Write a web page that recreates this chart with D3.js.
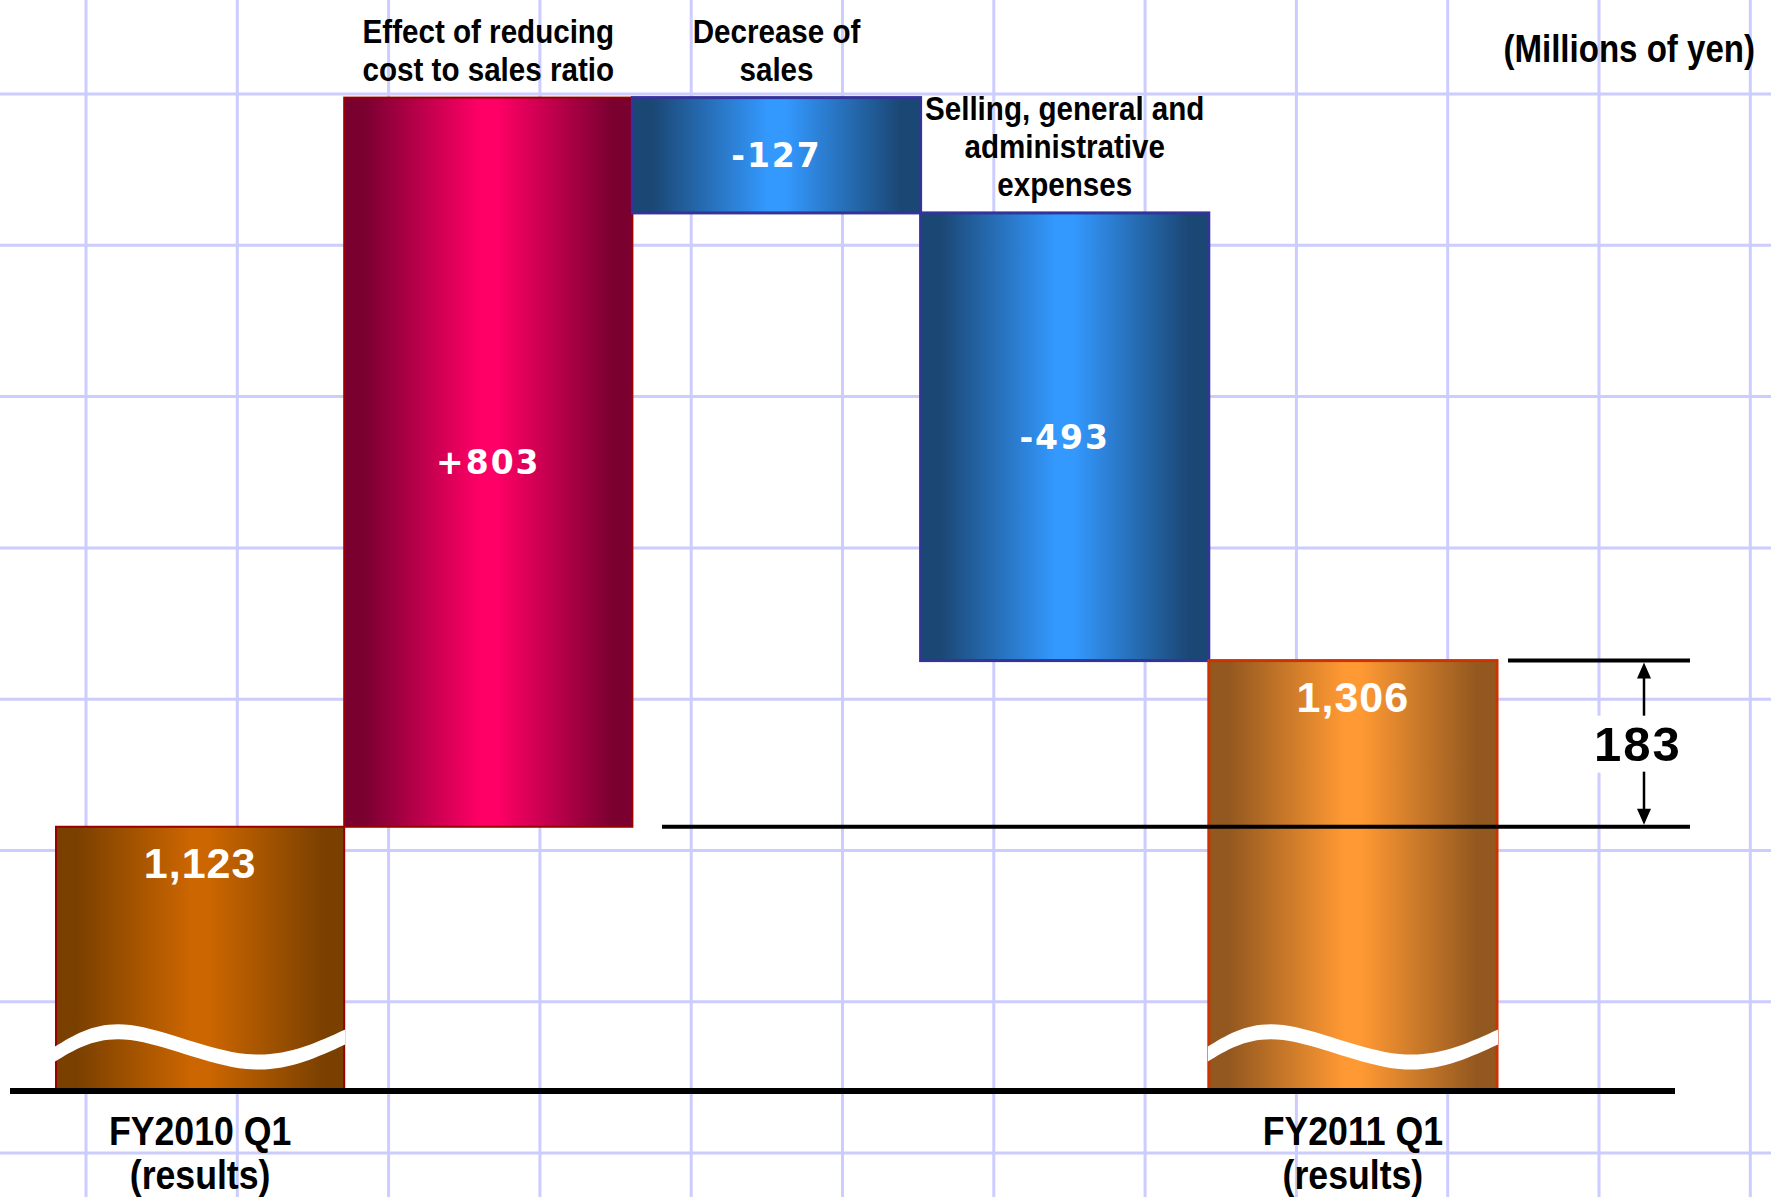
<!DOCTYPE html>
<html>
<head>
<meta charset="utf-8">
<script src="https://cdn.jsdelivr.net/npm/d3@7"></script>
<style>
  body { margin: 0; background: #fff; }
  .cat { font-family: "Liberation Sans", Arial, sans-serif; font-weight: bold; fill: #000; }
  .total { font-family: "Liberation Sans", Arial, sans-serif; font-weight: bold; fill: #fff; }
  .delta { font-family: "DejaVu Sans", sans-serif; font-weight: bold; fill: #fff; }
</style>
</head>
<body>
<svg id="chart" width="1771" height="1197"></svg>
<script>
// chart values
const categories = ["FY2010 Q1", "Cost ratio", "Sales", "SG&A", "FY2011 Q1"];
const labelLines = [
    ["FY2010 Q1", "(results)"],
    ["Effect of reducing", "cost to sales ratio"],
    ["Decrease of", "sales"],
    ["Selling, general and", "administrative", "expenses"],
    ["FY2011 Q1", "(results)"]
];
const values = [1123, 803, -127, -493, 1306];
const kinds = ["total", "delta", "delta", "delta", "total"];
const valueLabels = ["1,123", "+803", "-127", "-493", "1,306"];
const unitLabel = "(Millions of yen)";

const svg = d3.select("#chart"),
      width = +svg.attr("width"),
      height = +svg.attr("height");

const baseY = 1091;
const squeeze = 0.87; // the original labels use a condensed gothic face

const x = d3.scaleBand()
    .domain(categories)
    .range([56, 1497])
    .padding(0);

// broken axis: bottom of the plot stands for ~832
const y = d3.scaleLinear()
    .domain([832, 1926])
    .range([baseY, 97.6]);

// cumulative steps
let running = 0;
const bars = values.map((v, i) => {
    let a, b;
    if (kinds[i] === "total") {
        a = y.domain()[0]; b = v; running = v;
    } else {
        a = running; b = running + v; running = b;
    }
    return { cat: categories[i], kind: kinds[i], from: a, to: b, lines: labelLines[i], label: valueLabels[i], i };
});

// gradients
const grads = [
    { id: "g0", edge: "#7a4000", mid: "#cc6600", stroke: "#990000", sw: 2 },
    { id: "g1", edge: "#7a0030", mid: "#ff0066", stroke: "#990000", sw: 2 },
    { id: "g2", edge: "#1b4775", mid: "#3399ff", stroke: "#333399", sw: 3 },
    { id: "g3", edge: "#1b4775", mid: "#3399ff", stroke: "#333399", sw: 3 },
    { id: "g4", edge: "#93581f", mid: "#ff9933", stroke: "#cc3300", sw: 3 }
];
const defs = svg.append("defs");
grads.forEach(g => {
    const lg = defs.append("linearGradient").attr("id", g.id)
        .attr("x1", 0).attr("x2", 1).attr("y1", 0).attr("y2", 0);
    [[0, g.edge], [0.07, g.edge], [0.47, g.mid], [0.53, g.mid], [0.93, g.edge], [1, g.edge]]
        .forEach(s => lg.append("stop").attr("offset", s[0]).attr("stop-color", s[1]));
});

svg.append("rect").attr("width", width).attr("height", height).attr("fill", "#fff");

// background grid
const grid = svg.append("g").attr("stroke", "#ccccff").attr("stroke-width", 3);
grid.selectAll(".v").data(d3.range(86, width, 151.3)).enter().append("line")
    .attr("x1", d => d).attr("x2", d => d).attr("y1", 0).attr("y2", height);
grid.selectAll(".h").data(d3.range(94, height, 151.3)).enter().append("line")
    .attr("y1", d => d).attr("y2", d => d).attr("x1", 0).attr("x2", width);

// bars
svg.append("g").selectAll("rect")
    .data(bars)
    .enter().append("rect")
    .attr("x", d => x(d.cat))
    .attr("width", x.bandwidth())
    .attr("y", d => Math.min(y(d.from), y(d.to)))
    .attr("height", d => Math.abs(y(d.from) - y(d.to)))
    .attr("fill", d => `url(#${grads[d.i].id})`)
    .attr("stroke", d => grads[d.i].stroke)
    .attr("stroke-width", d => grads[d.i].sw);

// wavy break marks on total bars
const wave = [[0, -37], [0.26, -58.5], [0.66, -29.5], [1, -54]];
const waveArea = d3.area()
    .curve(d3.curveNatural)
    .x(p => p[0])
    .y0(p => p[1] - 7.5)
    .y1(p => p[1] + 7.5);
svg.append("g").selectAll("path")
    .data(bars.filter(d => d.kind === "total"))
    .enter().append("path")
    .attr("fill", "#fff")
    .attr("d", d => waveArea(wave.map(p => [x(d.cat) - 1 + p[0] * (x.bandwidth() + 2), baseY + p[1]])));

// value labels
svg.append("g").selectAll("text")
    .data(bars)
    .enter().append("text")
    .attr("class", d => d.kind)
    .attr("x", d => x(d.cat) + x.bandwidth() / 2)
    .attr("y", d => d.kind === "total" ? y(d.to) + 51 : (y(d.from) + y(d.to)) / 2 + 12)
    .attr("text-anchor", "middle")
    .style("font-size", d => d.kind === "total" ? "43px" : "33px")
    .style("letter-spacing", d => d.kind === "total" ? "1px" : "2px")
    .text(d => d.label);

// category labels: above for steps, below for totals
const cat = svg.append("g").selectAll("text")
    .data(bars)
    .enter().append("text")
    .attr("class", "cat")
    .attr("text-anchor", "middle")
    .style("font-size", d => d.kind === "total" ? "41px" : "34px")
    .attr("transform", d => {
        const cx = x(d.cat) + x.bandwidth() / 2;
        const top = Math.min(y(d.from), y(d.to));
        const ty = d.kind === "total" ? baseY + 54 : top - 17 - 38 * (d.lines.length - 1);
        return `translate(${cx},${ty}) scale(${squeeze},1)`;
    });
cat.selectAll("tspan")
    .data(d => d.lines.map((t, k) => ({ t, k, total: d.kind === "total" })))
    .enter().append("tspan")
    .attr("x", 0)
    .attr("y", l => l.k * (l.total ? 44 : 38))
    .text(l => l.t);

svg.append("text")
    .attr("class", "cat")
    .attr("transform", `translate(1755,62) scale(${squeeze},1)`)
    .attr("text-anchor", "end")
    .style("font-size", "38px")
    .text(unitLabel);

// baseline
svg.append("line")
    .attr("x1", 10).attr("x2", 1675)
    .attr("y1", baseY).attr("y2", baseY)
    .attr("stroke", "#000").attr("stroke-width", 6);

// difference bracket
const yA = y(values[0]), yB = y(values[4]);
svg.append("line")
    .attr("x1", 662).attr("x2", 1690).attr("y1", yA).attr("y2", yA)
    .attr("stroke", "#000").attr("stroke-width", 4);
svg.append("line")
    .attr("x1", 1508).attr("x2", 1690).attr("y1", yB).attr("y2", yB)
    .attr("stroke", "#000").attr("stroke-width", 4);

const ax = 1644, mid = (yA + yB) / 2;
svg.append("rect")
    .attr("x", 1578).attr("y", mid - 28).attr("width", 124).attr("height", 57)
    .attr("fill", "#fff");
const arrow = svg.append("g").attr("stroke", "#000").attr("stroke-width", 2.5);
arrow.append("line").attr("x1", ax).attr("x2", ax).attr("y1", yB + 14).attr("y2", mid - 28);
arrow.append("line").attr("x1", ax).attr("x2", ax).attr("y1", mid + 28).attr("y2", yA - 14);
svg.append("path")
    .attr("d", `M${ax},${yB + 2}L${ax - 7},${yB + 18}L${ax + 7},${yB + 18}Z M${ax},${yA - 2}L${ax - 7},${yA - 18}L${ax + 7},${yA - 18}Z`)
    .attr("fill", "#000");
svg.append("text")
    .attr("class", "total")
    .attr("x", 1638)
    .attr("y", mid + 17)
    .attr("text-anchor", "middle")
    .style("fill", "#000")
    .style("font-size", "49px")
    .style("letter-spacing", "2px")
    .text(d3.format(",")(values[4] - values[0]));
</script>
</body>
</html>
